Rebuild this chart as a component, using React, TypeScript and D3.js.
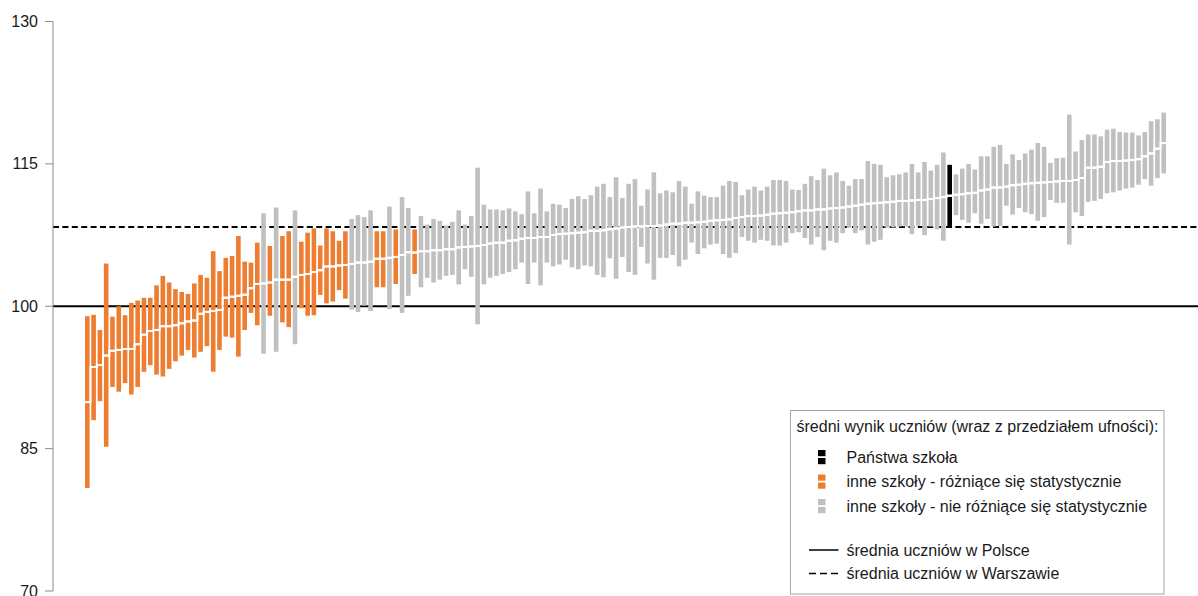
import React from "react";
import * as d3 from "d3";

// Mean score per school (sorted), with lower/upper confidence bounds
const means = [
  89.9, 93.6, 93.8, 94.8, 95.3, 95.4, 95.5, 95.5, 96.0, 97.0,
  97.4, 97.5, 97.9, 97.9, 98.0, 98.2, 98.4, 98.5, 99.2, 99.4,
  99.5, 99.6, 100.9, 101.0, 101.1, 101.2, 101.9, 102.35, 102.4, 102.5,
  102.8, 102.8, 102.8, 103.1, 103.3, 103.4, 103.6, 103.8, 104.2, 104.2,
  104.3, 104.35, 104.45, 104.6, 104.6, 104.7, 105.0, 105.0, 105.1, 105.2,
  105.4, 105.7, 105.65, 105.8, 105.8, 105.9, 105.9, 106.0, 106.0, 106.2,
  106.25, 106.3, 106.35, 106.45, 106.6, 106.7, 106.7, 106.9, 106.95, 107.1,
  107.2, 107.2, 107.3, 107.3, 107.5, 107.6, 107.65, 107.7, 107.75, 107.8,
  107.95, 107.95, 108.0, 108.1, 108.2, 108.3, 108.35, 108.4, 108.4, 108.45,
  108.45, 108.5, 108.6, 108.7, 108.7, 108.8, 108.8, 108.85, 108.9, 109.0,
  109.05, 109.1, 109.15, 109.3, 109.4, 109.5, 109.5, 109.55, 109.65, 109.75,
  109.8, 109.85, 109.9, 110.0, 110.1, 110.1, 110.2, 110.2, 110.3, 110.35,
  110.4, 110.5, 110.6, 110.7, 110.8, 110.85, 110.9, 110.95, 111.0, 111.1,
  111.1, 111.15, 111.2, 111.2, 111.3, 111.4, 111.5, 111.65, 111.75, 111.8,
  111.9, 111.95, 112.2, 112.3, 112.5, 112.5, 112.6, 112.75, 112.8, 112.9,
  112.95, 113.0, 113.05, 113.1, 113.15, 113.2, 113.2, 113.3, 113.5, 114.6,
  114.6, 114.7, 115.2, 115.3, 115.3, 115.35, 115.4, 115.5, 115.8, 116.1,
  116.6, 117.2,
];
const lows = [
  80.85, 88.0, 90.0, 85.2, 91.5, 91.0, 91.9, 90.7, 91.5, 93.1,
  93.8, 92.8, 92.6, 93.4, 94.2, 94.8, 95.4, 94.6, 95.2, 95.8,
  93.1, 95.4, 96.8, 96.7, 94.7, 97.5, 99.3, 98.0, 95.0, 99.0,
  95.2, 98.3, 97.8, 96.0, 99.8, 99.0, 99.05, 101.2, 100.3, 100.5,
  101.7, 100.8, 99.65, 99.4, 100.07, 99.5, 102.0, 102.0, 99.7, 102.35,
  99.3, 101.1, 103.4, 102.0, 103.0, 102.5, 102.8, 103.2, 103.3, 102.3,
  103.9, 103.1, 98.1, 102.3, 103.0, 103.2, 103.4, 103.6, 103.9, 104.6,
  102.35, 104.6, 102.2, 104.6, 104.2, 104.4, 104.9, 104.1, 103.9, 104.3,
  104.2, 103.3, 103.05, 105.05, 102.9, 105.2, 103.6, 103.3, 106.25, 104.5,
  102.8, 105.1, 105.1, 105.4, 104.2, 104.9, 106.7, 105.5, 106.1, 106.5,
  106.6, 105.5, 105.1, 105.6, 107.3, 106.9, 106.7, 107.0, 106.9, 106.4,
  106.4, 106.7, 107.7, 107.8, 107.2, 106.5, 107.3, 105.9, 106.9, 106.7,
  107.7, 108.25, 107.7, 108.0, 106.5, 106.8, 107.0, 108.3, 108.3, 108.4,
  108.4, 107.6, 108.45, 107.5, 108.4, 108.1, 106.9, 108.35, 109.6, 109.1,
  108.8, 109.8, 108.7, 109.2, 108.4, 108.45, 110.6, 109.65, 110.35, 109.9,
  109.7, 109.0, 109.4, 111.2, 110.9, 110.9, 106.5, 109.9, 109.5, 111.0,
  111.1, 111.3, 111.9, 112.0, 112.2, 112.4, 112.5, 112.8, 113.4, 112.7,
  113.5, 114.0,
];
const highs = [
  98.95, 99.1, 97.5, 104.5, 98.9, 100.0, 99.05, 100.35, 100.6, 100.9,
  100.9, 102.2, 103.2, 102.5, 101.8, 101.5, 101.3, 102.4, 103.3, 103.0,
  105.8, 103.7, 105.1, 105.3, 107.4, 104.7, 104.6, 106.7, 109.8, 106.35,
  110.4, 107.4, 107.9, 110.1, 106.8, 107.75, 108.2, 106.4, 108.2, 107.9,
  106.9, 107.9, 109.2, 109.6, 109.4, 110.1, 107.9, 107.9, 110.5, 108.1,
  111.5, 110.35, 108.1, 109.5, 108.6, 109.2, 109.0, 108.5, 108.9, 110.1,
  108.6, 109.5, 114.6, 110.7, 110.2, 110.2, 110.1, 110.3, 110.0, 109.7,
  112.1, 109.8, 112.4, 110.0, 110.8, 110.7, 110.35, 111.3, 111.6, 111.3,
  111.7, 112.6, 112.9, 111.5, 113.6, 111.4, 112.9, 113.4, 110.6, 112.3,
  114.1, 111.9, 112.2, 112.0, 113.2, 112.6, 110.8, 112.1, 111.65, 111.5,
  111.5, 112.7, 113.2, 113.1, 111.7, 112.3, 112.6, 112.2, 112.6, 113.3,
  113.3, 113.2, 112.3, 112.25, 112.9, 113.7, 113.3, 114.5, 113.8, 114.1,
  113.2, 112.7, 113.4, 113.4, 115.3, 115.0, 114.9, 113.6, 113.8, 113.9,
  114.1, 115.0, 114.1, 115.2, 114.3, 114.9, 116.2, 114.9, 113.9, 114.5,
  115.0, 114.4, 115.8, 115.8, 116.8, 117.0, 115.0, 116.0, 115.4, 116.1,
  116.5, 117.2, 116.8, 115.1, 115.6, 115.65, 120.2, 116.3, 117.5, 118.1,
  118.1, 117.9, 118.6, 118.7, 118.35, 118.3, 118.3, 118.0, 118.35, 119.5,
  119.7, 120.4,
];
// 1-based ranks of schools that differ significantly
const differingSchools = [
  1, 2, 3, 4, 5, 6, 7, 8, 9, 10, 11, 12, 13, 14, 15, 16, 17, 18, 19, 20,
  21, 22, 23, 24, 25, 26, 27, 28, 30, 32, 33, 35, 36, 37, 38, 39, 40, 41, 42,
  47, 48, 50, 53,
];
const ownSchool = 138;
const polandMean = 100;
const warsawMean = 108.35;
const yTicks = [70, 85, 100, 115, 130];

const legendTitle = "średni wynik uczniów (wraz z przedziałem ufności):";
const legendItems = [
  { label: "Państwa szkoła", color: "#000000" },
  { label: "inne szkoły - różniące się statystycznie", color: "#ED7D31" },
  { label: "inne szkoły - nie różniące się statystycznie", color: "#C0C0C0" },
];
const lineLegend = [
  { label: "średnia uczniów w Polsce", dash: null },
  { label: "średnia uczniów w Warszawie", dash: "7,4" },
];

const W = 1198;
const H = 596;
const FONT = "'Liberation Sans', Arial, sans-serif";
const ORANGE = "#ED7D31";
const GRAY = "#C0C0C0";
const FS = 16;

export default function App() {
  const idx = means.map((_, i) => i);
  const x = d3.scalePoint<number>().domain(idx).range([87.3, 1163.7]);
  const y = d3.scaleLinear().domain([70, 130]).range([591, 21.5]);
  const axisX = 53;
  const bw = 4.6;

  const colorOf = (i: number) => {
    const rank = i + 1;
    if (rank === ownSchool) return "#000000";
    if (differingSchools.includes(rank)) return ORANGE;
    return GRAY;
  };

  const meanLine = d3
    .line<number>()
    .x((i) => x(i) as number)
    .y((i) => y(means[i]))
    .curve(d3.curveStep);

  return (
    <svg
      width={W}
      height={H}
      style={{ position: "absolute", left: 0, top: 0, background: "#fff" }}
      fontFamily={FONT}
    >
      {/* reference lines */}
      <line x1={axisX} x2={W} y1={y(polandMean)} y2={y(polandMean)} stroke="#000" strokeWidth={2} />
      <line
        x1={axisX}
        x2={W}
        y1={y(warsawMean)}
        y2={y(warsawMean)}
        stroke="#000"
        strokeWidth={1.8}
        strokeDasharray="6,3.4"
      />

      {/* bars */}
      {idx.map((i) => (
        <rect
          key={i}
          x={(x(i) as number) - bw / 2}
          width={bw}
          y={y(highs[i])}
          height={y(lows[i]) - y(highs[i])}
          fill={colorOf(i)}
        />
      ))}
      {/* mean markers */}
      <path d={meanLine(idx) || ""} fill="none" stroke="#fff" strokeWidth={2} />
      {idx.map((i) => (
        <rect
          key={"m" + i}
          x={(x(i) as number) - bw / 2 - 0.5}
          width={bw + 1}
          y={y(means[i]) - 1}
          height={2}
          fill="#fff"
        />
      ))}

      {/* y axis */}
      <line x1={axisX} x2={axisX} y1={y(70)} y2={y(130)} stroke="#8c8c8c" strokeWidth={1} />
      {yTicks.map((t) => (
        <g key={t}>
          <line x1={axisX - 8} x2={axisX} y1={y(t)} y2={y(t)} stroke="#8c8c8c" strokeWidth={1} />
          <text x={38} y={y(t)} dy="0.35em" textAnchor="end" fontSize={FS} fill="#1a1a1a">
            {t}
          </text>
        </g>
      ))}

      {/* legend */}
      <g>
        <rect x={790.5} y={410.5} width={373.5} height={183.5} fill="#fff" stroke="#a6a6a6" strokeWidth={1} />
        <text x={796.5} y={431.5} fontSize={FS} fill="#1a1a1a">
          {legendTitle}
        </text>
        {legendItems.map((it, k) => {
          const cy = 457 + k * 24.5;
          return (
            <g key={it.label}>
              <rect x={818} y={cy - 7} width={7.5} height={6.2} fill={it.color} />
              <rect x={818} y={cy + 1} width={7.5} height={6.2} fill={it.color} />
              <text x={846.5} y={cy + 5.5} fontSize={FS} fill="#1a1a1a">
                {it.label}
              </text>
            </g>
          );
        })}
        {lineLegend.map((it, k) => {
          const ly = 550 + k * 23.5;
          return (
            <g key={it.label}>
              <line
                x1={809}
                x2={838.5}
                y1={ly}
                y2={ly}
                stroke="#000"
                strokeWidth={1.5}
                strokeDasharray={it.dash || undefined}
              />
              <text x={846.5} y={ly + 5.5} fontSize={FS} fill="#1a1a1a">
                {it.label}
              </text>
            </g>
          );
        })}
      </g>
    </svg>
  );
}
